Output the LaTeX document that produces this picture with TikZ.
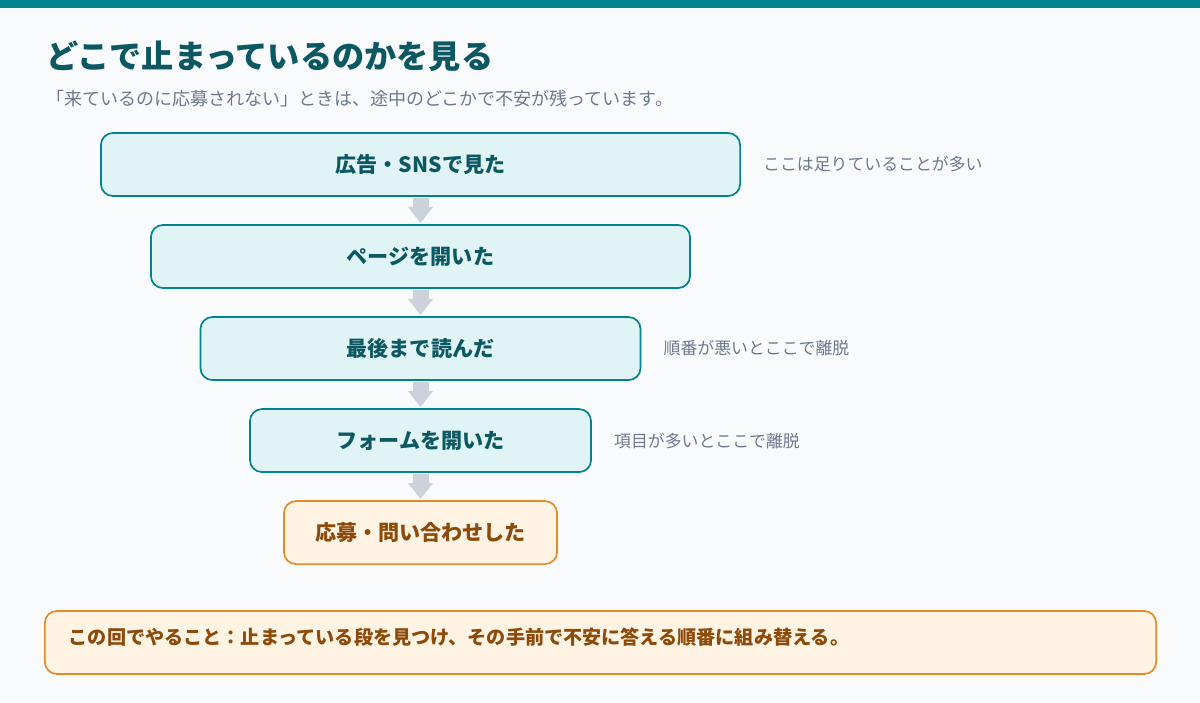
\documentclass[tikz,border=0pt]{standalone}
\usepackage{fontspec}
\setmainfont{Noto Sans CJK JP}
\usetikzlibrary{arrows.meta}
\usetikzlibrary{positioning}

\definecolor{pagebg}{RGB}{248,250,252}
\definecolor{tealline}{RGB}{0,131,143}
\definecolor{tealdark}{RGB}{12,88,98}
\definecolor{tealfill}{RGB}{224,244,245}
\definecolor{slatetext}{RGB}{110,122,140}
\definecolor{arrowgray}{RGB}{203,210,220}
\definecolor{orangeline}{RGB}{230,138,40}
\definecolor{orangefill}{RGB}{255,244,228}
\definecolor{orangetext}{RGB}{140,75,10}

\begin{document}
\begin{tikzpicture}[x=0.025cm,y=-0.025cm,node distance=2.3cm,
  stage/.style={draw=tealline,fill=tealfill,line width=1.2pt,rounded corners=0.3cm,
    minimum height=1.575cm,text=tealdark,font=\bfseries\fontsize{15}{18}\selectfont},
  goal/.style={stage,draw=orangeline,fill=orangefill,text=orangetext},
  note/.style={anchor=west,inner sep=0pt,text=slatetext,font=\fontsize{12}{14}\selectfont},
  flow/.style={color=arrowgray,line width=0.4cm,-{Triangle[width=0.6cm,length=0.4cm]},
    shorten <=0.03cm,shorten >=0.03cm}]
\fill[pagebg] (0,0) rectangle (1200,702);
\fill[tealline] (0,0) rectangle (1200,8);

\node[anchor=west,inner sep=0pt,text=tealdark,font=\bfseries\fontsize{22.9}{27}\selectfont] (title) at (46,56) {どこで止まっているのかを見る};
\node[anchor=west,inner sep=0pt,text=slatetext,font=\fontsize{12.8}{15}\selectfont] (sub) at (46,98.5) {「来ているのに応募されない」ときは、途中のどこかで不安が残っています。};

\node[stage,minimum width=15.975cm] (A) at (420.5,164.5) {広告・SNSで見た};
\node[stage,minimum width=13.475cm] (B) [below of=A] {ページを開いた};
\node[stage,minimum width=11cm] (C) [below of=B] {最後まで読んだ};
\node[stage,minimum width=8.525cm] (D) [below of=C] {フォームを開いた};
\node[goal,minimum width=6.825cm] (E) [below of=D] {応募・問い合わせした};

\node[note] (nA) [right=0.55cm of A] {ここは足りていることが多い};
\node[note] (nC) [right=0.55cm of C] {順番が悪いとここで離脱};
\node[note] (nD) [right=0.55cm of D] {項目が多いとここで離脱};

\path (A) edge[flow] (B)
      (B) edge[flow] (C)
      (C) edge[flow] (D)
      (D) edge[flow] (E);

\node[goal,minimum width=27.775cm,text width=26.575cm,inner xsep=0.6cm,align=left,
  text height=0.4cm,text depth=0.325cm,font=\bfseries\fontsize{13.6}{16}\selectfont] (plan) at (600.5,642.5)
  {この回でやること：止まっている段を見つけ、その手前で不安に答える順番に組み替える。};
\end{tikzpicture}
\end{document}
